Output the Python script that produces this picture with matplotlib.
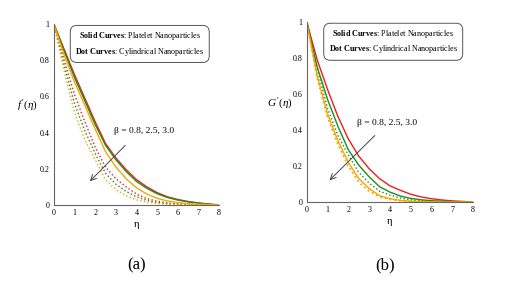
import matplotlib
matplotlib.use("Agg")
import matplotlib.pyplot as plt
import numpy as np

plt.rcParams['font.family'] = 'Liberation Serif'
plt.rcParams['mathtext.fontset'] = 'custom'
plt.rcParams['mathtext.rm'] = 'Liberation Serif'
plt.rcParams['mathtext.it'] = 'Liberation Serif:italic'
plt.rcParams['mathtext.bf'] = 'Liberation Serif:bold'

eta = np.arange(0, 8.01, 0.5)

# panel (a): f'(eta)
a_red_solid = [1, 0.86, 0.72, 0.59, 0.46, 0.34, 0.26, 0.195, 0.14, 0.10, 0.068, 0.045, 0.030, 0.019, 0.011, 0.005, 0]
a_green_solid = [1, 0.85, 0.705, 0.575, 0.445, 0.33, 0.25, 0.185, 0.13, 0.092, 0.062, 0.041, 0.027, 0.017, 0.010, 0.004, 0]
a_orange_solid = [1, 0.83, 0.68, 0.55, 0.42, 0.295, 0.21, 0.145, 0.095, 0.06, 0.037, 0.022, 0.013, 0.007, 0.004, 0.002, 0]
a_red_dot = [1, 0.80, 0.61, 0.46, 0.32, 0.21, 0.145, 0.10, 0.06, 0.035, 0.02, 0.011, 0.006, 0.003, 0.001, 0, 0]
a_green_dot = [1, 0.77, 0.56, 0.41, 0.285, 0.175, 0.115, 0.075, 0.045, 0.025, 0.013, 0.007, 0.004, 0.002, 0.001, 0, 0]
a_orange_dot = [1, 0.74, 0.51, 0.36, 0.25, 0.14, 0.085, 0.05, 0.028, 0.015, 0.008, 0.004, 0.002, 0.001, 0, 0, 0]

# panel (b): G'(eta)
b_red_solid = [1, 0.79, 0.625, 0.475, 0.35, 0.255, 0.185, 0.13, 0.09, 0.065, 0.043, 0.028, 0.018, 0.011, 0.006, 0.003, 0]
b_green_solid = [1, 0.75, 0.57, 0.42, 0.29, 0.205, 0.14, 0.085, 0.055, 0.033, 0.020, 0.012, 0.007, 0.004, 0.002, 0.001, 0]
b_green_dot = [1, 0.74, 0.52, 0.37, 0.26, 0.165, 0.105, 0.06, 0.038, 0.022, 0.012, 0.007, 0.004, 0.002, 0.001, 0, 0]
b_orange_solid = [1, 0.70, 0.49, 0.34, 0.22, 0.13, 0.075, 0.035, 0.018, 0.009, 0.004, 0.002, 0.001, 0, 0, 0, 0]
b_orange_dot = [1, 0.69, 0.47, 0.32, 0.20, 0.11, 0.06, 0.028, 0.014, 0.007, 0.003, 0.001, 0, 0, 0, 0, 0]

red = '#ee1c1c'
green = '#1e8c1e'
orange = '#f7a600'

fig = plt.figure(figsize=(5.13, 2.97), dpi=100)
ax1 = fig.add_axes([0.105, 0.31, 0.322, 0.609])
ax2 = fig.add_axes([0.598, 0.32, 0.324, 0.606])

lw = 1.0
ax1.plot(eta, a_red_dot, ':', color=red, lw=lw)
ax1.plot(eta, a_green_dot, ':', color=green, lw=lw)
ax1.plot(eta, a_orange_dot, ':', color=orange, lw=lw)
ax1.plot(eta, a_red_solid, '-', color=red, lw=lw)
ax1.plot(eta, a_green_solid, '-', color=green, lw=lw)
ax1.plot(eta, a_orange_solid, '-', color=orange, lw=lw)

ax2.plot(eta, b_green_dot, ':', color=green, lw=lw)
ax2.plot(eta, b_orange_dot, ':', color=orange, lw=1.3)
ax2.plot(eta, b_red_solid, '-', color=red, lw=lw)
ax2.plot(eta, b_green_solid, '-', color=green, lw=lw)
ax2.plot(eta, b_orange_solid, '-', color=orange, lw=lw)

box_text = ('$\\mathbf{Solid\\ Curves}$: Platelet Nanoparticles\n'
            '$\\mathbf{Dot\\ Curves}$: Cylindrical Nanoparticles')

for ax, ylab in [(ax1, "$f\\,'(\\eta)$"), (ax2, "$G\\,'(\\eta)$")]:
    ax.set_xlim(0, 8)
    ax.set_ylim(0, 1)
    ax.set_xticks(range(9))
    ax.set_yticks([0, 0.2, 0.4, 0.6, 0.8, 1])
    ax.set_yticklabels(['0', '0.2', '0.4', '0.6', '0.8', '1'])
    ax.tick_params(labelsize=5.8, length=0, pad=3)
    ax.spines['top'].set_visible(False)
    ax.spines['right'].set_visible(False)
    ax.spines['left'].set_color('#666666')
    ax.spines['bottom'].set_color('#666666')
    ax.spines['left'].set_linewidth(0.8)
    ax.spines['bottom'].set_linewidth(0.8)
    ax.set_xlabel('η', fontsize=7.5, labelpad=2)
    ax.set_ylabel(ylab, fontsize=8, rotation=0, labelpad=9)
    ax.text(0.52, 0.89, box_text, transform=ax.transAxes, fontsize=5.9,
            ha='center', va='center', linespacing=1.4,
            bbox=dict(boxstyle='round,pad=0.6,rounding_size=0.8',
                      fc='white', ec='#555555', lw=0.7))

ax1.text(2.9, 0.41, 'β = 0.8, 2.5, 3.0', fontsize=6.8, ha='left', va='center')
ax1.annotate('', xy=(1.65, 0.12), xytext=(3.55, 0.34),
             arrowprops=dict(arrowstyle='->', color='#444444', lw=0.7))
ax2.text(2.4, 0.44, 'β = 0.8, 2.5, 3.0', fontsize=6.8, ha='left', va='center')
ax2.annotate('', xy=(1.0, 0.11), xytext=(3.37, 0.38),
             arrowprops=dict(arrowstyle='->', color='#444444', lw=0.7))

fig.text(0.267, 0.108, '(a)', fontsize=12, ha='center', va='center')
fig.text(0.750, 0.108, '(b)', fontsize=12, ha='center', va='center')

fig.savefig('out.png', dpi=100)
